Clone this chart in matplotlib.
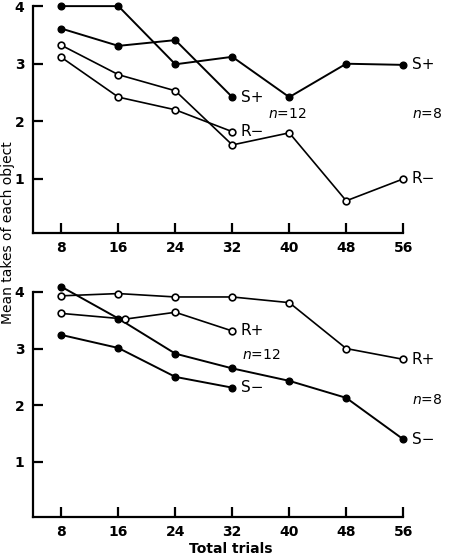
import matplotlib
matplotlib.use("Agg")
import matplotlib.pyplot as plt

# trial counts
trials8 = [8, 16, 24, 32, 40, 48, 56]
trials12 = [8, 16, 24, 32]
trials12_rplus = [8, 17, 24, 32]   # 16-trial point drawn slightly offset in the original

# top panel
s_plus_8 = [4.0, 4.0, 2.99, 3.12, 2.42, 3.0, 2.98]
r_minus_8 = [3.32, 2.81, 2.53, 1.59, 1.80, 0.62, 1.0]
s_plus_12 = [3.61, 3.31, 3.41, 2.42]
r_minus_12 = [3.11, 2.42, 2.20, 1.82]

# bottom panel
s_minus_8 = [4.09, 3.53, 2.91, 2.65, 2.43, 2.13, 1.40]
r_plus_8 = [3.93, 3.97, 3.91, 3.91, 3.81, 3.0, 2.81]
s_minus_12 = [3.24, 3.01, 2.50, 2.31]
r_plus_12 = [3.62, 3.52, 3.64, 3.31]

plt.rcParams['font.family'] = 'DejaVu Sans'
fig = plt.figure(figsize=(4.51, 5.57), dpi=100)
ax1 = fig.add_axes([0.073, 0.582, 0.821, 0.407])
ax2 = fig.add_axes([0.073, 0.072, 0.821, 0.404])

filled = dict(color='black', lw=1.4, marker='o', ms=4.8, mfc='black', mec='black', clip_on=False)
hollow = dict(color='black', lw=1.2, marker='o', ms=4.8, mfc='white', mec='black', mew=1.2, clip_on=False)


def style(ax, ylo):
    ax.set_xlim(4, 56)
    ax.set_ylim(ylo, 4.0)
    ax.set_xticks(trials8)
    ax.set_yticks([1, 2, 3, 4])
    ax.spines['top'].set_visible(False)
    ax.spines['right'].set_visible(False)
    for s in ['left', 'bottom']:
        ax.spines[s].set_linewidth(1.6)
    ax.tick_params(direction='in', length=7, width=1.6, labelsize=10, pad=6)
    for lab in ax.get_xticklabels() + ax.get_yticklabels():
        lab.set_fontweight('bold')


ax1.plot(trials8, s_plus_8, **filled)
ax1.plot(trials8, r_minus_8, **hollow)
ax1.plot(trials12, s_plus_12, **filled)
ax1.plot(trials12, r_minus_12, **hollow)
style(ax1, 0.064)

tk = dict(fontsize=11, va='center', ha='left')
nk = dict(fontsize=10, va='center', ha='left')
ax1.text(33.2, s_plus_12[-1], 'S+', **tk)
ax1.text(33.2, r_minus_12[-1], 'R\u2212', **tk)
ax1.text(37.0, 2.13, r'$n$=12', **nk)
ax1.text(57.2, s_plus_8[-1], 'S+', clip_on=False, **tk)
ax1.text(57.2, r_minus_8[-1], 'R\u2212', clip_on=False, **tk)
ax1.text(57.3, 2.13, r'$n$=8', clip_on=False, **nk)

ax2.plot(trials8, s_minus_8, **filled)
ax2.plot(trials8, r_plus_8, **hollow)
ax2.plot(trials12, s_minus_12, **filled)
ax2.plot(trials12_rplus, r_plus_12, **hollow)
style(ax2, 0.03)

ax2.text(33.2, r_plus_12[-1], 'R+', **tk)
ax2.text(33.2, s_minus_12[-1], 'S\u2212', **tk)
ax2.text(33.3, 2.88, r'$n$=12', **nk)
ax2.text(57.2, r_plus_8[-1], 'R+', clip_on=False, **tk)
ax2.text(57.2, s_minus_8[-1], 'S\u2212', clip_on=False, **tk)
ax2.text(57.3, 2.09, r'$n$=8', clip_on=False, **nk)

fig.text(0.512, 0.015, 'Total trials', ha='center', va='center', fontsize=10, fontweight='bold')
fig.text(0.018, 0.583, 'Mean takes of each object', rotation=90, ha='center', va='center', fontsize=10)

fig.savefig('out.png', dpi=100)
